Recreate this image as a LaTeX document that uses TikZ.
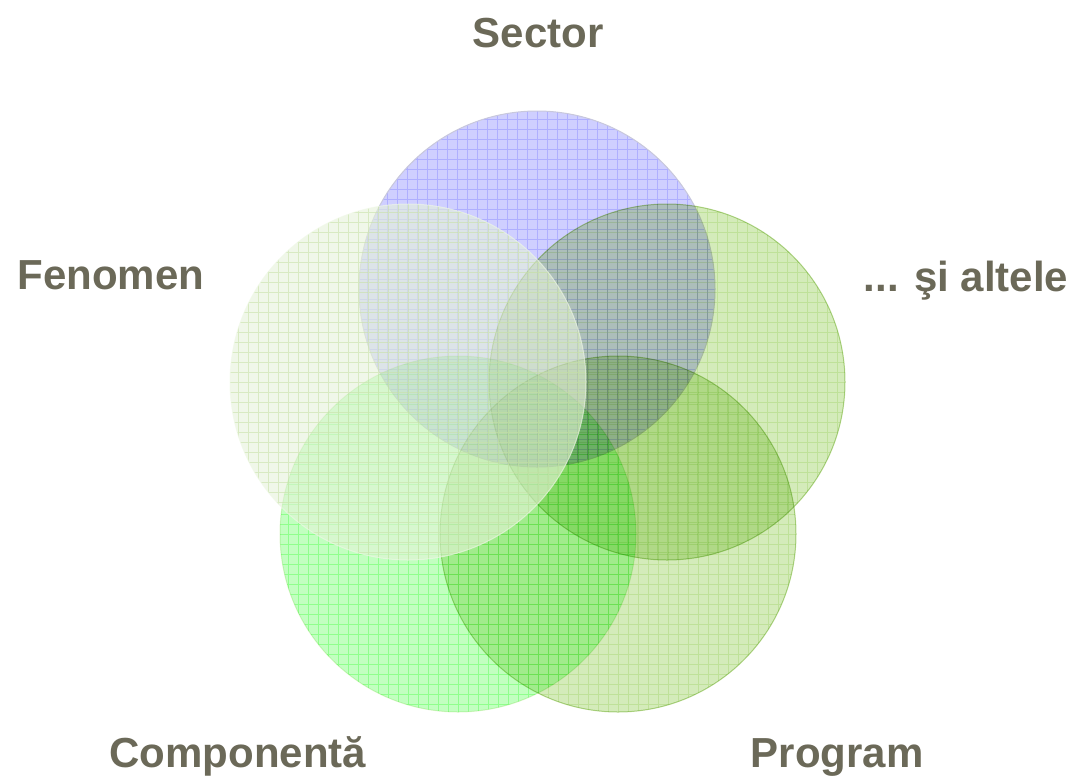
\documentclass[tikz,border=0pt]{standalone}
\usepackage{fontspec}
\setmainfont{Liberation Sans}

\definecolor{labelgrey}{RGB}{107,105,88}
\definecolor{sectorfill}{HTML}{CFCFFF}
\definecolor{sectorgrid}{HTML}{AFAFFF}
\definecolor{sectorrim}{HTML}{C8C8DC}
\definecolor{olivefill}{HTML}{D4EBBA}
\definecolor{olivegrid}{HTML}{E6F5D2}
\definecolor{oliverim}{HTML}{B8D890}
\definecolor{limefill}{HTML}{C2FFC0}
\definecolor{limegrid}{HTML}{BEFFBC}
\definecolor{limerim}{HTML}{E0F4D0}
\definecolor{palefill}{HTML}{E6F2DA}
\definecolor{palegrid}{HTML}{C8E2A8}
\definecolor{palerim}{HTML}{F0F8E8}

\tikzset{
  label text/.style={text=labelgrey, inner sep=0pt, font=\fontsize{31.5}{36}\selectfont\bfseries},
}

% one shaded bubble: centre, fill, grid colour, rim colour, scope options
\newcommand{\bubble}[5]{%
  \begin{scope}[#5]
    \fill[#2] (#1) circle (178);
    \begin{scope}
      \clip (#1) circle (178);
      \draw[#3, line width=0.6, step=10, shift={(#1)}] (-180,-180) grid (180,180);
    \end{scope}
    \draw[#4, line width=0.75] (#1) circle (178);
  \end{scope}}

\begin{document}
\begin{tikzpicture}[x=0.75pt,y=0.75pt,yscale=-1,xscale=1]
\useasboundingbox (0,0) rectangle (1071,776);

%Centres of the circles
\coordinate (sector) at (537,289);
\coordinate (altele) at (667,382);
\coordinate (program) at (618,534);
\coordinate (component) at (458,534);
\coordinate (fenomen) at (408,382);

%Shape: Circle
\bubble{sector}{sectorfill}{sectorgrid}{sectorrim}{}
%Shape: Circle
\bubble{altele}{olivefill}{olivegrid}{oliverim}{blend mode=multiply}
%Shape: Circle
\bubble{program}{olivefill}{olivegrid}{oliverim}{blend mode=multiply}
%Shape: Circle
\bubble{component}{limefill}{limegrid}{limerim}{blend mode=multiply}
%Shape: Circle
\bubble{fenomen}{palefill}{palegrid}{palerim}{opacity=0.6}

% Text Node
\node[label text, anchor=base] (lsector) at (538,47) {Sector};
% Text Node
\node[label text, anchor=base] (lfenomen) at (111,289) {Fenomen};
% Text Node
\node[label text, anchor=base] (laltele) at (966,291) {... şi altele};
% Text Node
\node[label text, anchor=base] (lcomponent) at (238,767) {Componentă};
% Text Node
\node[label text, anchor=base] (lprogram) at (837,767) {Program};

\end{tikzpicture}
\end{document}
